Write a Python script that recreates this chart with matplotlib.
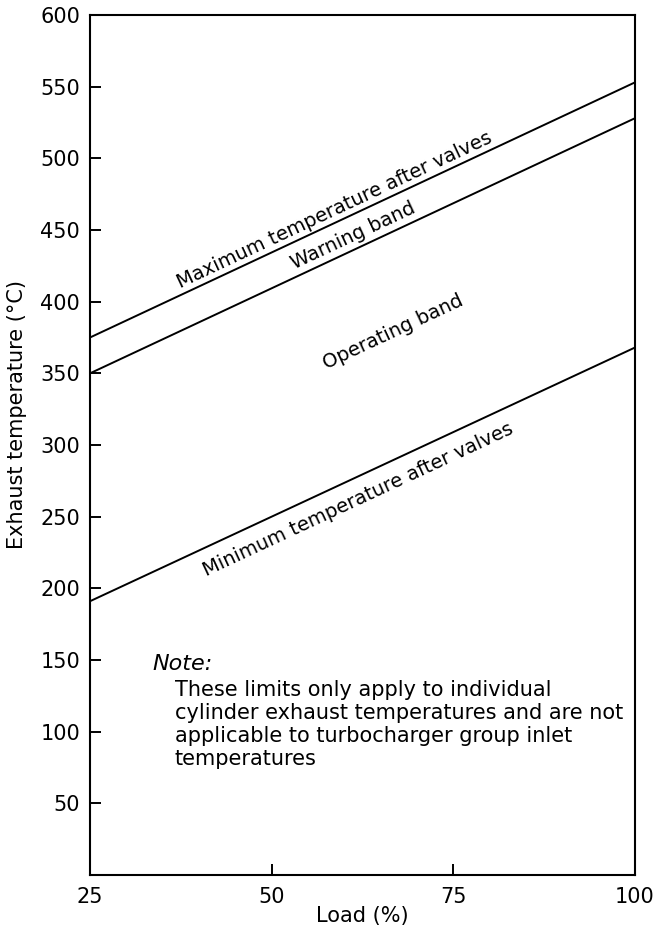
import numpy as np
import matplotlib
matplotlib.use("Agg")
import matplotlib.pyplot as plt

plt.rcParams['font.family'] = ['DejaVu Sans']

# Data
load = [25, 100]
max_temp = [375, 553]
warn_temp = [350, 528]
min_temp = [191, 368]

x_ticks = [25, 50, 75, 100]
y_ticks = [50, 100, 150, 200, 250, 300, 350, 400, 450, 500, 550, 600]

labels = [
    ("Maximum temperature after valves", 58.7, 464, max_temp),
    ("Warning band", 61.2, 446, max_temp),
    ("Operating band", 66.7, 379, warn_temp),
    ("Minimum temperature after valves", 61.9, 262, min_temp),
]

note_title = "Note:"
note_body = ("These limits only apply to individual\n"
             "cylinder exhaust temperatures and are not\n"
             "applicable to turbocharger group inlet\n"
             "temperatures")

fig = plt.figure(figsize=(6.63, 9.27), dpi=100)
ax = fig.add_axes([0.1357, 0.0561, 0.822, 0.9277])

for series in (max_temp, warn_temp, min_temp):
    ax.plot(load, series, color='black', lw=1.4, solid_capstyle='butt')

ax.set_xlim(25, 100)
ax.set_ylim(0, 600)
ax.set_xticks(x_ticks)
ax.set_yticks(y_ticks)
ax.tick_params(direction='in', length=8, width=1.4, labelsize=15, pad=7, colors='black')
ax.tick_params(axis='x', pad=9)
for s in ax.spines.values():
    s.set_linewidth(1.5)

ax.set_xlabel("Load (%)", fontsize=15, labelpad=-1)
ax.set_ylabel("Exhaust temperature (°C)", fontsize=15)
ax.yaxis.set_label_coords(-0.115, 0.535)

for text, x, y, ref in labels:
    slope = (ref[1] - ref[0]) / (load[1] - load[0])
    ang = np.degrees(np.arctan(slope))
    ax.text(x, y, text, rotation=ang, transform_rotates_text=True,
            rotation_mode='anchor', ha='center', va='center', fontsize=14)

ax.text(0.114, 0.238, note_title, transform=ax.transAxes, fontsize=16,
        style='italic', ha='left', va='baseline')
ax.text(0.156, 0.2265, note_body, transform=ax.transAxes, fontsize=15,
        ha='left', va='top', linespacing=1.18)

fig.savefig("out.png", dpi=100, facecolor='white')
